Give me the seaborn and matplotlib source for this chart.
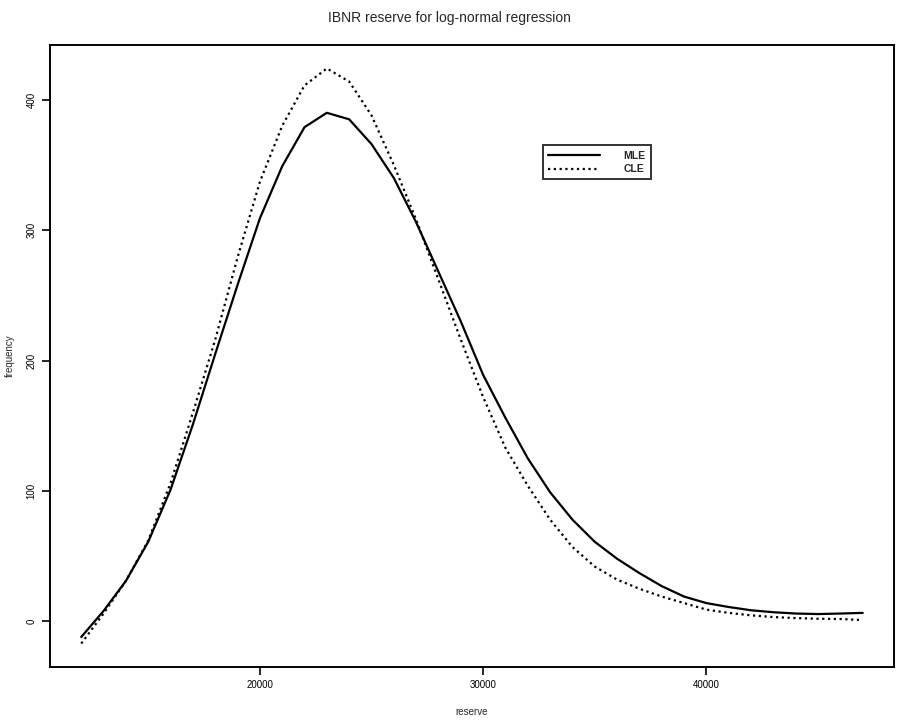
import matplotlib
matplotlib.use("Agg")
from matplotlib import pyplot as plt
import seaborn as sns
import pandas as pd

# reserve grid (x) and the two fitted frequency curves
reserve = [12000, 13000, 14000, 15000, 16000, 17000, 18000, 19000, 20000, 21000,
           22000, 23000, 24000, 25000, 26000, 27000, 28000, 29000, 30000, 31000,
           32000, 33000, 34000, 35000, 36000, 37000, 38000, 39000, 40000, 41000,
           42000, 43000, 44000, 45000, 46000, 47000]
mle = [-12, 8, 31, 61, 101, 151, 205, 258, 309, 349,
       379, 390, 385, 366, 340, 306, 268, 230, 189, 156,
       125, 99, 78, 61, 48, 37, 27, 19, 14, 11,
       8.5, 7, 6, 5.6, 6, 6.5]
cle = [-17, 6, 31, 62, 106, 160, 216, 279, 337, 380,
       411, 424, 414, 388, 350, 308, 262, 216, 172, 133,
       104, 78, 57, 42, 32, 25, 19, 14, 9, 6.5,
       4.6, 3.3, 2.5, 2, 1.8, 1]
labels = ["MLE", "CLE"]

df = pd.concat([
    pd.DataFrame({"reserve": reserve, "frequency": mle, "est": labels[0]}),
    pd.DataFrame({"reserve": reserve, "frequency": cle, "est": labels[1]}),
])

sns.set_style("ticks")
plt.rcParams['font.family'] = ['Liberation Sans', 'DejaVu Sans']

fig = plt.figure(figsize=(8.99, 7.21), dpi=100)
ax = fig.add_axes([0.0556, 0.0749, 0.9388, 0.8627])

sns.lineplot(data=df, x="reserve", y="frequency", style="est", style_order=labels,
             dashes={"MLE": "", "CLE": (1, 1.6)}, color="black", ax=ax,
             linewidth=1.6, sort=False)

ax.set_xlim(10600, 48400)
ax.set_ylim(-35, 442)
ax.set_xticks([20000, 30000, 40000])
ax.set_yticks([0, 100, 200, 300, 400])
ax.tick_params(axis="both", direction="out", length=6, width=1.2, labelsize=7, colors="black")
for lbl in ax.get_yticklabels():
    lbl.set_rotation(90)
    lbl.set_va("center")
for s in ax.spines.values():
    s.set_linewidth(1.4)
    s.set_color("black")

ax.set_xlabel("reserve", fontsize=7)
ax.set_ylabel("frequency", fontsize=7)
ax.xaxis.set_label_coords(0.5, -0.065)
ax.yaxis.set_label_coords(-0.042, 0.5)
fig.text(0.5, 0.975, "IBNR reserve for log-normal regression", ha="center", va="center", fontsize=10)

leg = ax.legend(loc="upper left", bbox_to_anchor=(0.578, 0.847), fontsize=7.5, frameon=True,
                fancybox=False, handlelength=5, borderpad=0.5, labelspacing=0.35, handletextpad=2.2)
leg.get_frame().set_edgecolor("black")
leg.get_frame().set_linewidth(1.4)
leg.set_title(None)
for t in leg.get_texts():
    t.set_fontweight("bold")

fig.savefig("out.png", dpi=100)
plt.close()
